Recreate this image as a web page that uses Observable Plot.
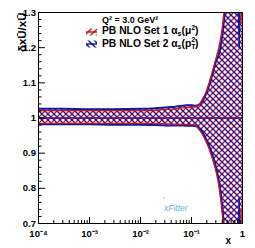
<!DOCTYPE html>
<html><head><meta charset="utf-8">
<script src="https://cdn.jsdelivr.net/npm/d3@7"></script>
<script src="https://cdn.jsdelivr.net/npm/@observablehq/plot@0.6"></script>
<style>html,body{margin:0;padding:0;background:#fff;} svg{display:block}</style>
</head><body><div id="chart"></div>
<script>
const RED = "#cc1414", BLUE = "#1414aa";

// x grid and band edges (ratio to central value)
const xGrid = [1e-4, 3e-4, 1e-3, 3e-3, 0.01, 0.02, 0.04, 0.06, 0.08, 0.1, 0.12, 0.14, 0.16, 0.18, 0.2, 0.25, 0.3, 0.35, 0.4, 0.45, 0.5, 0.6, 0.7, 0.82, 0.86, 0.9, 0.93, 0.96, 1.0];
const set1Upper = [1.021, 1.021, 1.021, 1.021, 1.021, 1.022, 1.025, 1.028, 1.030, 1.031, 1.032, 1.038, 1.050, 1.064, 1.080, 1.126, 1.168, 1.205, 1.255, 1.33, 1.42, 1.50, 1.55, 1.55, 1.55, 1.55, 1.27, 1.50, 1.55];
const set1Lower = [0.985, 0.985, 0.985, 0.985, 0.985, 0.984, 0.983, 0.982, 0.982, 0.981, 0.980, 0.968, 0.956, 0.942, 0.928, 0.890, 0.850, 0.800, 0.730, 0.64, 0.55, 0.45, 0.45, 0.45, 0.45, 0.45, 0.74, 0.50, 0.45];
const set2Upper = [1.026, 1.026, 1.025, 1.025, 1.026, 1.028, 1.031, 1.034, 1.036, 1.036, 1.035, 1.038, 1.046, 1.058, 1.074, 1.118, 1.160, 1.185, 1.235, 1.30, 1.38, 1.48, 1.52, 1.50, 1.20, 1.45, 1.55, 1.55, 1.55];
const set2Lower = [0.982, 0.982, 0.982, 0.981, 0.981, 0.980, 0.979, 0.979, 0.978, 0.978, 0.977, 0.971, 0.961, 0.949, 0.936, 0.900, 0.862, 0.815, 0.750, 0.66, 0.58, 0.48, 0.45, 0.50, 0.775, 0.55, 0.45, 0.45, 0.45];
const centralRatio = [1];

const yTicks = [0.7, 0.8, 0.9, 1, 1.1, 1.2, 1.3];
const yTickLabels = ["0.7", "0.8", "0.9", "1", "1.1", "1.2", "1.3"];
const xTicks = [1e-4, 1e-3, 1e-2, 1e-1, 1];
const xTickLabels = ["10\u207B\u2074", "10\u207B\u00B3", "10\u207B\u00B2", "10\u207B\u00B9", "1"];
const yMinor = d3.range(0.72, 1.3, 0.02).filter(v => Math.abs(v * 10 - Math.round(v * 10)) > 1e-6);
const xMinor = xTicks.slice(0, 4).flatMap(d => [2,3,4,5,6,7,8,9].map(k => k * d));

const rows = xGrid.map((x, i) => ({x, u1: set1Upper[i], l1: set1Lower[i], u2: set2Upper[i], l2: set2Lower[i]}));

const W = 255, H = 248, ML = 38, MR = 13, MT = 12, MB = 25;
const FW = W - ML - MR, FH = H - MT - MB;

function decorations(index, scales, values, dims) {
  const ns = "http://www.w3.org/2000/svg";
  const g = document.createElementNS(ns, "g");
  g.setAttribute("text-anchor", "start");
  const L = dims.marginLeft, T = dims.marginTop;
  const sx = L + 48, tx = L + 64;
  g.innerHTML = `
  <defs>
    <pattern id="hatchRed" patternUnits="userSpaceOnUse" width="6" height="6">
      <path d="M-1,1L1,-1M0,6L6,0M5,7L7,5" stroke="${RED}" stroke-width="1.4" fill="none"/>
    </pattern>
    <pattern id="hatchBlue" patternUnits="userSpaceOnUse" width="6" height="6">
      <path d="M-1,5L1,7M0,0L6,6M5,-1L7,1" stroke="${BLUE}" stroke-width="1.4" fill="none"/>
    </pattern>
  </defs>
  <text x="${tx}" y="${T + 11.3}" font-size="9" font-weight="bold" fill="#000">Q\u00B2 = 3.0 GeV\u00B2</text>
  <rect x="${sx}" y="${T + 16.5}" width="11" height="7" fill="url(#hatchRed)"/>
  <line x1="${sx}" x2="${sx + 11}" y1="${T + 20}" y2="${T + 20}" stroke="${RED}" stroke-width="1.5"/>
  <text x="${tx}" y="${T + 22.3}" font-size="10.3" font-weight="bold" fill="#000">PB NLO Set 1 \u03B1<tspan font-size="7" dy="2">s</tspan><tspan dy="-2">(\u03BC</tspan><tspan font-size="7" dy="-4">2</tspan><tspan dy="4">)</tspan></text>
  <rect x="${sx}" y="${T + 28.5}" width="11" height="7" fill="url(#hatchBlue)"/>
  <line x1="${sx}" x2="${sx + 11}" y1="${T + 32}" y2="${T + 32}" stroke="${BLUE}" stroke-width="1.5"/>
  <text x="${tx}" y="${T + 34.5}" font-size="10.3" font-weight="bold" fill="#000">PB NLO Set 2 \u03B1<tspan font-size="7" dy="2">s</tspan><tspan dy="-2">(p</tspan><tspan font-size="7" dy="2.5">T</tspan><tspan font-size="7" dx="-4.3" dy="-7">2</tspan><tspan dy="4.5">)</tspan></text>
  <text x="${L + 126}" y="${T + 199}" font-size="8.5" font-style="italic" fill="#5ab0e0">xFitter</text>
  <text x="${L + 125}" y="${T + 189}" font-size="6" fill="#e8c030">*</text>
  `;
  return g;
}

const chart = Plot.plot({
  width: W, height: H,
  marginLeft: ML, marginRight: MR, marginTop: MT, marginBottom: MB,
  x: {type: "log", domain: [1e-4, 1]},
  y: {domain: [0.7, 1.3]},
  style: {fontFamily: "'Liberation Sans', Arial, Helvetica, sans-serif", background: "#fff", color: "#000"},
  marks: [
    decorations,
    Plot.areaY(rows, {x: "x", y1: "l1", y2: "u1", fill: "url(#hatchRed)", curve: "monotone-x", clip: true}),
    Plot.areaY(rows, {x: "x", y1: "l2", y2: "u2", fill: "url(#hatchBlue)", curve: "monotone-x", clip: true}),
    Plot.ruleY(centralRatio, {stroke: RED, strokeWidth: 1.5}),
    Plot.ruleY(centralRatio, {stroke: BLUE, strokeWidth: 1.2}),
    Plot.lineY(rows, {x: "x", y: "u2", stroke: BLUE, strokeWidth: 2, curve: "monotone-x", clip: true}),
    Plot.lineY(rows, {x: "x", y: "l2", stroke: BLUE, strokeWidth: 2, curve: "monotone-x", clip: true}),
    Plot.lineY(rows, {x: "x", y: "u1", stroke: RED, strokeWidth: 1.3, curve: "monotone-x", clip: true}),
    Plot.lineY(rows, {x: "x", y: "l1", stroke: RED, strokeWidth: 1.3, curve: "monotone-x", clip: true}),
    Plot.frame({stroke: "#000", strokeWidth: 1}),
    Plot.ruleX(xTicks, {insetTop: FH - 6, stroke: "#000"}),
    Plot.ruleX(xMinor, {insetTop: FH - 3, stroke: "#000"}),
    Plot.ruleY(yTicks, {insetRight: FW - 7, stroke: "#000"}),
    Plot.ruleY(yMinor, {insetRight: FW - 3.5, stroke: "#000"}),
    Plot.axisX({ticks: xTicks, tickSize: 0, tickPadding: 7, tickFormat: d => xTickLabels[xTicks.indexOf(d)], fontSize: 9.5, fontWeight: "bold", label: null}),
    Plot.axisY({ticks: yTicks, tickSize: 0, tickPadding: 2.5, tickFormat: d => yTickLabels[yTicks.indexOf(d)], fontSize: 9.5, fontWeight: "bold", label: null}),
    Plot.text(["x"], {frameAnchor: "bottom-right", dx: -11.5, dy: 20, lineAnchor: "bottom", fontSize: 10, fontWeight: "bold"}),
    Plot.text(["\u03B4x\u016A/x\u016A"], {frameAnchor: "top-left", dx: -21, rotate: -90, textAnchor: "end", fontSize: 11.5, fontWeight: "bold"})
  ]
});
document.getElementById("chart").appendChild(chart);
</script>
</body></html>
